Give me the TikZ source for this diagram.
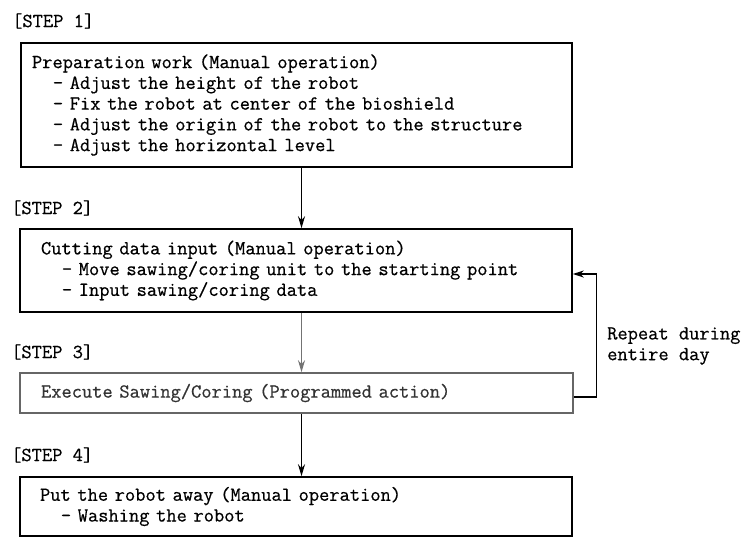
\documentclass[tikz,border=0pt]{standalone}
\usepackage{fontspec}
\setmainfont{Latin Modern Mono}[FakeBold=0.6]
\usetikzlibrary{arrows.meta, positioning, calc}
\tikzstyle{stepbox} = [rectangle, minimum width=551pt, text width=529pt, inner xsep=11pt, line width=1.6pt, draw=black, align=left]
\tikzstyle{stepbox_grey} = [stepbox, draw=black!60, text=black!80]
\tikzstyle{steplabel} = [anchor=west, inner sep=0pt]
\tikzstyle{arrow_solid} = [line width=1.4pt,-{Stealth[length=12pt,width=7pt]}]
\tikzstyle{arrow_grey} = [arrow_solid, draw=black!55, fill=black!55]
\tikzstyle{arrow_loop} = [line width=1.2pt,-{Stealth[length=11pt,width=7pt]}]
\newcommand{\dashitem}[1]{\\\mbox{\hspace*{1.05em}- #1}}

\begin{document}
\begin{tikzpicture}[x=1pt, y=-1pt, font=\fontsize{19.9}{20.75}\selectfont]

	\useasboundingbox (0,0) rectangle (743,538);

		% Step labels
		\node (step1_label) [steplabel] at (12,21) {[STEP 1]};
		\node (step2_label) [steplabel] at (11,208) {[STEP 2]};
		\node (step3_label) [steplabel] at (11,352) {[STEP 3]};
		\node (step4_label) [steplabel] at (11,455) {[STEP 4]};

		% Step boxes
		\node (step1) [stepbox, minimum height=124pt] at (296.5,105) {Preparation work (Manual operation)
			\dashitem{Adjust the height of the robot}
			\dashitem{Fix the robot at center of the bioshield}
			\dashitem{Adjust the origin of the robot to the structure}
			\dashitem{Adjust the horizontal level}};

		\node (step2) [stepbox, minimum height=83pt, minimum width=552pt, text width=510pt, inner xsep=21pt] at (296,270.5) {Cutting data input (Manual operation)
			\dashitem{Move sawing/coring unit to the starting point}
			\dashitem{Input sawing/coring data}};

		\node (step3) [stepbox_grey, minimum height=40pt, minimum width=553pt, text width=511pt, inner xsep=21pt] at (296.5,393) {Execute Sawing/Coring (Programmed action)};

		\node (step4) [stepbox, minimum height=59pt, minimum width=552pt, text width=512pt, inner xsep=20pt] at (296,506.5) {Put the robot away (Manual operation)
			\dashitem{Washing the robot}};

		\node (repeat) [anchor=west, align=left, inner sep=0pt] at (607,346) {Repeat during\\entire day};

		% Arrows between the steps
		\coordinate (spine) at (301.5,0);
		\draw [arrow_solid] (step1.south -| spine) -- (step2.north -| spine);
		\draw [arrow_grey] (step2.south -| spine) -- (step3.north -| spine);
		\draw [arrow_solid] (step3.south -| spine) -- (step4.north -| spine);
		% -
		\draw [arrow_loop] ([yshift=-4pt]step3.east) -- ++(23,0) |- ([yshift=-3.5pt]step2.east);

\end{tikzpicture}
\end{document}
